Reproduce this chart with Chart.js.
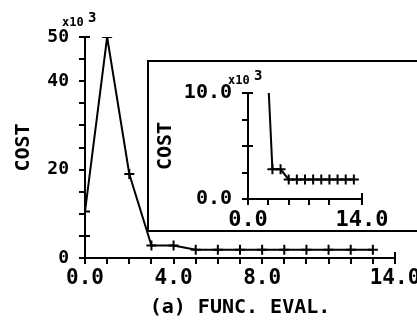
<!DOCTYPE html>
<html>
<head>
<meta charset="utf-8">
<script src="https://cdn.jsdelivr.net/npm/chart.js@4"></script>
<style>
  html, body { margin: 0; padding: 0; background: #fff; }
  #wrap { position: relative; width: 417px; height: 321px; overflow: hidden; }
  #main { position: absolute; left: 0; top: 0; }
  #insetBox { position: absolute; left: 147px; top: 60px; width: 272px; height: 172px;
              border: 2px solid #000; box-sizing: border-box; }
  #inset { position: absolute; left: 149px; top: 62px; }
</style>
</head>
<body>
<div id="wrap">
  <canvas id="main" width="417" height="321"></canvas>
  <div id="insetBox"></div>
  <canvas id="inset" width="268" height="168"></canvas>
</div>
<script>
// function evaluations vs cost (in thousands)
const funcEval = [0, 0, 1, 2, 3, 4, 5, 6, 7, 8, 9, 10, 11, 12, 13];
const costK = [5, 10.5, 50, 19, 2.8, 2.8, 1.85, 1.85, 1.85, 1.85, 1.85, 1.85, 1.85, 1.85, 1.85];

// tick labels that are written out
const mainXLabels = [0, 4, 8, 14];
const mainYLabels = [0, 20, 40, 50];
const insetXLabels = [0, 14];
const insetYLabels = [0, 10];

const FONT = "'DejaVu Sans Mono', monospace";
const points = funcEval.map((x, i) => ({ x: x, y: costK[i] }));

function dataset() {
    return {
        data: points,
        borderColor: '#000',
        backgroundColor: '#000',
        borderWidth: 2,
        pointStyle: 'cross',
        pointRadius: 5,
        pointBorderWidth: 2,
        pointBorderColor: '#000',
        tension: 0
    };
}

function axisGrid() {
    return { display: true, drawOnChartArea: false, drawTicks: true, tickLength: 6, color: '#000', lineWidth: 2 };
}

// exponent label and end cap of the x axis
function extras(sx, sy, exp) {
    return {
        id: 'extras',
        afterDraw(chart) {
            const ctx = chart.ctx;
            const xs = chart.scales.x, ys = chart.scales.y;
            const x0 = xs.getPixelForValue(xs.min), xe = xs.getPixelForValue(xs.max);
            const yb = ys.getPixelForValue(0), yt = ys.getPixelForValue(ys.max);
            ctx.save();
            ctx.strokeStyle = '#000';
            ctx.lineWidth = 2;
            ctx.beginPath();
            ctx.moveTo(xe, yb);
            ctx.lineTo(xe, yb - 6);
            ctx.moveTo(x0, yt);
            ctx.lineTo(x0 + 5, yt);
            ctx.stroke();
            ctx.fillStyle = '#000';
            ctx.textBaseline = 'alphabetic';
            ctx.font = 'bold 12px ' + FONT;
            ctx.fillText('x10', x0 + sx, yt + sy);
            ctx.font = 'bold 14px ' + FONT;
            ctx.fillText(exp, x0 + sx + 26, yt + sy - 4);
            ctx.restore();
        }
    };
}

new Chart(document.getElementById('main'), {
    type: 'line',
    data: { datasets: [dataset()] },
    plugins: [extras(-23, -11, '3')],
    options: {
        responsive: false,
        devicePixelRatio: 1,
        animation: false,
        layout: { padding: { top: 37, right: 22, left: 0, bottom: 0 } },
        plugins: { legend: { display: false }, tooltip: { enabled: false } },
        elements: { line: { clip: false } },
        scales: {
            x: {
                type: 'linear', min: 0, max: 14,
                grid: axisGrid(),
                border: { color: '#000', width: 2 },
                ticks: {
                    stepSize: 1, autoSkip: false, maxRotation: 0, color: '#000', padding: 2,
                    font: { family: FONT, size: 21, weight: 'bold' },
                    callback: v => mainXLabels.includes(v) ? v.toFixed(1) : ''
                },
                title: { display: true, text: '(a) FUNC. EVAL.', color: '#000',
                         font: { family: FONT, size: 20, weight: 'bold' }, padding: { top: 0, bottom: 1 } },
                afterFit: s => { s.height = 63; s.paddingLeft = 0; s.paddingRight = 0; }
            },
            y: {
                type: 'linear', min: 0, max: 50,
                grid: axisGrid(),
                border: { color: '#000', width: 2 },
                ticks: {
                    stepSize: 5, autoSkip: false, color: '#000', padding: 10,
                    font: { family: FONT, size: 18, weight: 'bold' },
                    callback: v => mainYLabels.includes(v) ? String(v) : ''
                },
                title: { display: true, text: 'COST', color: '#000',
                         font: { family: FONT, size: 20, weight: 'bold' }, padding: { top: 12, bottom: 0 } },
                afterFit: s => { s.width = 85; s.paddingTop = 0; s.paddingBottom = 0; }
            }
        }
    }
});

new Chart(document.getElementById('inset'), {
    type: 'line',
    data: { datasets: [dataset()] },
    plugins: [extras(-20, -9, '3')],
    options: {
        responsive: false,
        devicePixelRatio: 1,
        animation: false,
        layout: { padding: { top: 31, right: 55, left: 0, bottom: 0 } },
        plugins: { legend: { display: false }, tooltip: { enabled: false } },
        scales: {
            x: {
                type: 'linear', min: 0, max: 14,
                grid: axisGrid(),
                border: { color: '#000', width: 2 },
                ticks: {
                    stepSize: 2.5, autoSkip: false, maxRotation: 0, color: '#000', padding: 2,
                    font: { family: FONT, size: 22, weight: 'bold' },
                    callback: v => insetXLabels.includes(v) ? v.toFixed(1) : ''
                },
                afterFit: s => { s.height = 31; s.paddingLeft = 0; s.paddingRight = 0; }
            },
            y: {
                type: 'linear', min: 0, max: 10,
                grid: axisGrid(),
                border: { color: '#000', width: 2 },
                ticks: {
                    stepSize: 2.5, autoSkip: false, color: '#000', padding: 10,
                    font: { family: FONT, size: 20, weight: 'bold' },
                    callback: v => insetYLabels.includes(v) ? v.toFixed(1) : ''
                },
                title: { display: true, text: 'COST', color: '#000',
                         font: { family: FONT, size: 20, weight: 'bold' }, padding: { top: 5, bottom: 0 } },
                afterFit: s => { s.width = 99; s.paddingTop = 0; s.paddingBottom = 0; }
            }
        }
    }
});
</script>
</body>
</html>
